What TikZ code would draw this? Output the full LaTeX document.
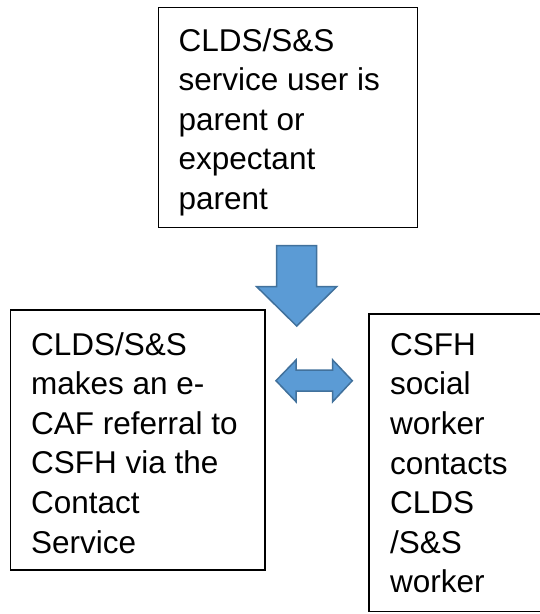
\documentclass[tikz,border=0pt]{standalone}
\usepackage{fontspec}
\setmainfont{Liberation Sans}
\tikzset{
  box/.style={draw=black, line width=1.5pt, fill=white},
  txt/.style={anchor=north west, inner sep=0pt, align=left, font=\fontsize{31.5}{39.6}\selectfont},
  blockarrow/.style={fill=arrowfill, draw=arrowline, line width=1.5pt, line join=miter}
}
\definecolor{arrowfill}{HTML}{5B9BD5}
\definecolor{arrowline}{HTML}{41719C}
\begin{document}
\begin{tikzpicture}[x=1pt,y=-1pt]
\useasboundingbox (0,0) rectangle (540,614);
\fill[white] (0,0) rectangle (540,614);
% boxes
\draw[box] (158.3,7.3) rectangle (417.7,227.7);
\draw[box] (10.7,310) rectangle (265,570);
\begin{scope}
\clip (0,0) rectangle (540,614);
\draw[box] (369,314) rectangle (548,611.7);
\end{scope}
% texts
\node[txt] (top) at (178.5,28) {CLDS/S\&S\\service user is\\parent or\\expectant\\parent};
\node[txt] (left) at (31,332) {CLDS/S\&S\\makes an e-\\CAF referral to\\CSFH via the\\Contact\\Service};
\node[txt] (right) at (390,333) {CSFH\\social\\worker\\contacts\\CLDS\\/S\&S\\worker};
% down arrow
\draw[blockarrow] (276.7,245.7) -- (316.7,245.7) -- (316.7,286.7) -- (336.7,286.7)
  -- (296.7,326) -- (256.7,286.7) -- (276.7,286.7) -- cycle;
% double arrow
\draw[blockarrow] (276,380.7) -- (296,360) -- (296,370) -- (332.7,370) -- (332.7,360)
  -- (352.3,380.7) -- (332.7,401.7) -- (332.7,391) -- (296,391) -- (296,401.7) -- cycle;
\end{tikzpicture}
\end{document}
